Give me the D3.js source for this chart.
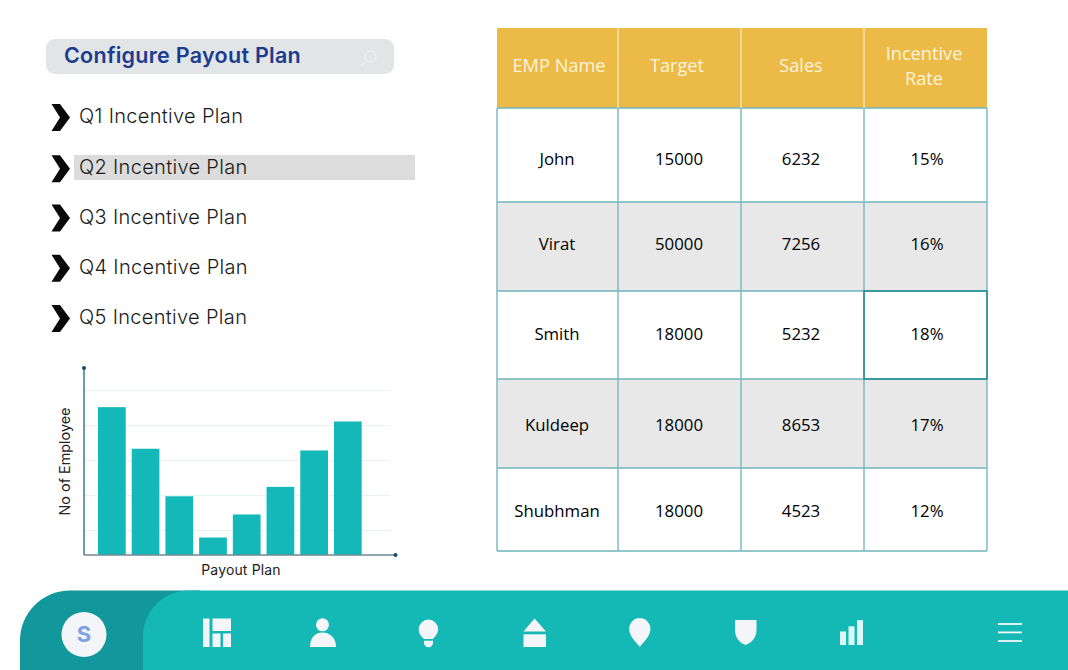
<!DOCTYPE html>
<html><head><meta charset="utf-8">
<script src="https://cdnjs.cloudflare.com/ajax/libs/d3/7.8.5/d3.min.js"></script>
<style>html,body{margin:0;padding:0;background:#fff;overflow:hidden}svg{display:block}</style>
</head><body><div id="chart"></div>
<script>
const menuItems = ["Q1 Incentive Plan","Q2 Incentive Plan","Q3 Incentive Plan","Q4 Incentive Plan","Q5 Incentive Plan"];
const selectedItem = "Q2 Incentive Plan";
const barCategories = ["A","B","C","D","E","F","G","H"];
const barValues = [42.3,30.4,16.8,5,11.6,19.5,29.9,38.2];
const gridValues = [7,17,27,37,47];
const tableHeaders = [["EMP Name"],["Target"],["Sales"],["Incentive","Rate"]];
const empNames = ["John","Virat","Smith","Kuldeep","Shubhman"];
const empTargets = ["15000","50000","18000","18000","18000"];
const empSales = ["6232","7256","5232","8653","4523"];
const empRates = ["15%","16%","18%","17%","12%"];

const svg = d3.select("#chart").append("svg").attr("width",1068).attr("height",670);
const UI = "Inter, sans-serif", TB = "'Open Sans', sans-serif";

// Title pill
svg.append("rect").attr("x",46).attr("y",39).attr("width",348).attr("height",35).attr("rx",9).attr("fill","#e2e5e6");
svg.append("text").attr("x",64).attr("y",63).attr("font-family",UI).attr("font-weight",600).attr("font-size",21.5).attr("letter-spacing",0.28).attr("fill","#1c3a8e").text("Configure Payout Plan");
const search = svg.append("g").attr("fill","none").attr("stroke","#f4f6f6").attr("stroke-width",1);
search.append("circle").attr("cx",370.5).attr("cy",56.5).attr("r",5.5);
search.append("line").attr("x1",366.5).attr("y1",60.5).attr("x2",361).attr("y2",66);

// Menu
const menuY = d3.scalePoint().domain(menuItems).range([116,317]);
svg.append("rect").attr("x",74).attr("y",155).attr("width",341).attr("height",25).attr("fill","#dcdcdc");
const menu = svg.selectAll("g.menu").data(menuItems).join("g").attr("class","menu").attr("transform",d=>`translate(0,${menuY(d)+(d===selectedItem?1:0)})`);
menu.append("path").attr("d","M51.5,-12 H60 L70,1.5 L60,15 H51.5 L60,1.5 Z").attr("fill","#0a0a0a");
menu.append("text").attr("x",79).attr("y",7).attr("font-family",UI).attr("font-weight",300).attr("font-size",20).attr("letter-spacing",0.32).attr("fill","#1a1a1a").text(d=>d);

// Bar chart
const x = d3.scaleBand().domain(barCategories).range([98,361.7]).paddingInner(0.178);
const y = d3.scaleLinear().domain([0,53.5]).range([555,368]);
svg.append("g").selectAll("line").data(gridValues).join("line")
  .attr("x1",84).attr("x2",390).attr("y1",d=>y(d)).attr("y2",d=>y(d)).attr("stroke","#e9f0f2").attr("stroke-width",1);
svg.append("g").selectAll("rect").data(barValues).join("rect")
  .attr("x",(d,i)=>x(barCategories[i])).attr("width",x.bandwidth())
  .attr("y",d=>y(d)).attr("height",d=>y(0)-y(d)).attr("fill","#14b8b8");
svg.append("line").attr("x1",84).attr("x2",84).attr("y1",y(53.5)).attr("y2",y(0)).attr("stroke","#44798c").attr("stroke-width",1.5);
svg.append("line").attr("x1",84).attr("x2",395.5).attr("y1",y(0)).attr("y2",y(0)).attr("stroke","#6f8a97").attr("stroke-width",1.6);
svg.append("circle").attr("cx",84).attr("cy",368).attr("r",2).attr("fill","#0f4c6e");
svg.append("circle").attr("cx",395.5).attr("cy",555).attr("r",2).attr("fill","#0f4c6e");
svg.append("text").attr("x",241).attr("y",575).attr("text-anchor","middle").attr("font-family",UI).attr("font-size",14).attr("letter-spacing",0.15).attr("fill","#222").text("Payout Plan");
svg.append("text").attr("transform","translate(70,461.5) rotate(-90)").attr("text-anchor","middle").attr("font-family",UI).attr("font-size",14.4).attr("fill","#222").text("No of Employee");

// Table
const colX = [497,618,741,864,987];
const rowY = [108,202,291,379,468,551];
const headTop = 28;
const columns = [empNames,empTargets,empSales,empRates];
const tbl = svg.append("g");
tbl.append("rect").attr("x",colX[0]).attr("y",headTop).attr("width",colX[4]-colX[0]).attr("height",rowY[0]-headTop).attr("fill","#ecbb47");
empNames.forEach((n,i)=>{ if(i%2===1) tbl.append("rect").attr("x",colX[0]).attr("y",rowY[i]).attr("width",colX[4]-colX[0]).attr("height",rowY[i+1]-rowY[i]).attr("fill","#e8e8e8"); });
tbl.selectAll("line.h").data(rowY).join("line").attr("class","h").attr("x1",colX[0]).attr("x2",colX[4]).attr("y1",d=>d).attr("y2",d=>d).attr("stroke","#6fb4bb").attr("stroke-width",1.3);
tbl.selectAll("line.v").data(colX).join("line").attr("class","v").attr("x1",d=>d).attr("x2",d=>d).attr("y1",rowY[0]).attr("y2",rowY[5]).attr("stroke","#7cbcc3").attr("stroke-width",1.5);
tbl.selectAll("line.vh").data(colX.slice(1,4)).join("line").attr("class","vh").attr("x1",d=>d).attr("x2",d=>d).attr("y1",headTop).attr("y2",rowY[0]).attr("stroke","#f6e3ae").attr("stroke-width",1.5);
tbl.append("rect").attr("x",colX[3]).attr("y",rowY[2]).attr("width",colX[4]-colX[3]).attr("height",rowY[3]-rowY[2]).attr("fill","none").attr("stroke","#1f8a92").attr("stroke-width",1.5);
tableHeaders.forEach((lines,c)=>{
  const cx = c===0?559:c===1?677:c===2?801:924;
  lines.forEach((t,i)=>{
    const base = lines.length===1 ? 71.5 : 60+i*24.5;
    tbl.append("text").attr("x",cx).attr("y",base).attr("text-anchor","middle").attr("font-family",TB).attr("font-size",18.2).attr("fill","#fbf3dc").text(t);
  });
});
const cellX = [557,679,801,927];
const rowBase = [164.5,249.5,339.5,430.5,516.5];
columns.forEach((col,c)=>{
  tbl.selectAll("text.c"+c).data(col).join("text").attr("class","c"+c).attr("x",cellX[c]).attr("y",(d,i)=>rowBase[i])
    .attr("text-anchor","middle").attr("font-family",TB).attr("font-size",16.8).attr("fill","#000").text(d=>d);
});

// Bottom bar
svg.append("path").attr("d","M20,670 V640 A50,50 0 0 1 70,590.5 H200 V670 Z").attr("fill","#12989c");
svg.append("path").attr("d","M143,670 V636 A46,46 0 0 1 189,590.5 H1068 V670 Z").attr("fill","#14b9b6");
svg.append("circle").attr("cx",84).attr("cy",634.5).attr("r",22.5).attr("fill","#f4f5f8");
svg.append("text").attr("x",84).attr("y",642).attr("text-anchor","middle").attr("font-family",UI).attr("font-weight",700).attr("font-size",22).attr("fill","#7ba2e2").text("S");
const ic = svg.append("g").attr("fill","#f3f5f8");
[[203,618.5,6.5,28.5],[212.5,618.5,18.5,12.5],[212.5,633.5,8,13.5],[223,633.5,8,13.5]].forEach(r=>ic.append("rect").attr("x",r[0]).attr("y",r[1]).attr("width",r[2]).attr("height",r[3]));
ic.append("circle").attr("cx",322.5).attr("cy",624.8).attr("r",6.5);
ic.append("path").attr("d","M310,647 C310,637 316,632.5 322.5,632.5 C329,632.5 336,637 336,647 Z");
ic.append("path").attr("d","M424,639 C421,636 418.7,634 418.7,629.3 A9.7,9.7 0 0 1 438.1,629.3 C438.1,634 435.5,636 433,639 Z");
ic.append("path").attr("d","M424,640.8 H433 V643 A4.5,4.2 0 0 1 424,643 Z");
ic.append("path").attr("d","M534.5,618.5 L546,631.5 H523.5 Z");
ic.append("rect").attr("x",523.5).attr("y",634.3).attr("width",22.5).attr("height",12.7);
ic.append("path").attr("d","M639.8,646.7 C635,641 629.2,636 629.2,628.7 A10.6,10.6 0 0 1 650.4,628.7 C650.4,636 644.6,641 639.8,646.7 Z");
ic.append("path").attr("d","M735,620 H756.5 V630 C756.5,638 751,643 745.5,645 C740,643 735,638 735,630 Z");
[[840,631.5],[848.5,626.3],[857,620.2]].forEach(b=>svg.append("rect").attr("x",b[0]).attr("y",b[1]).attr("width",6).attr("height",645-b[1]).attr("fill","#dcf7f5"));
[624,632.4,641].forEach(v=>svg.append("line").attr("x1",998).attr("x2",1022).attr("y1",v).attr("y2",v).attr("stroke","#f3f8f9").attr("stroke-width",1.8));
</script></body></html>
